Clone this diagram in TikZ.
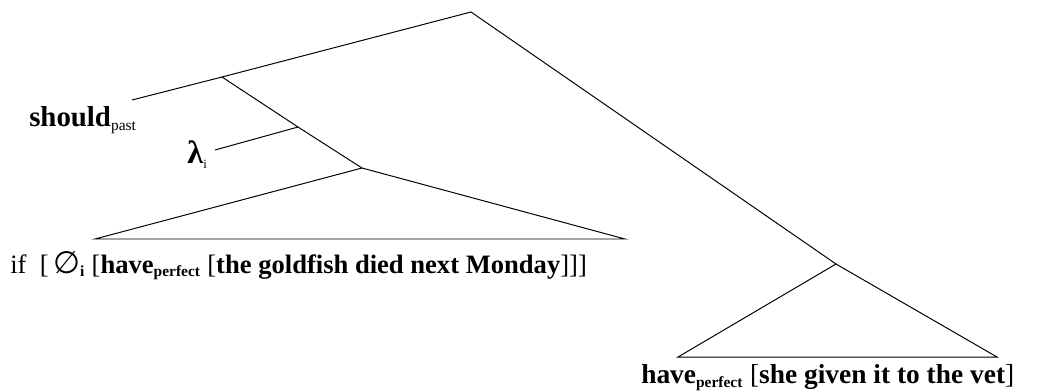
\documentclass[tikz,border=0pt]{standalone}
\usepackage{fontspec}
\setmainfont{Liberation Serif}
\newfontfamily\symfont{DejaVu Sans}
\usepackage{tikz}
\usetikzlibrary{positioning}

\begin{document}
\begin{tikzpicture}[
    x=0.025cm, y=-0.025cm,
    branch/.style={line width=0.7pt},
    word/.style={anchor=base west, inner sep=0pt, font=\fontsize{19.5}{24}\selectfont},
    lab/.style={anchor=base west, inner sep=0pt, font=\fontsize{20.5}{24}\selectfont},
]
    \useasboundingbox (0,0) rectangle (1045,390);

    % tree nodes
    \coordinate (root) at (471,12);
    \coordinate (nA) at (222,77);
    \coordinate (nB) at (298,127);
    \coordinate (nC) at (362,168);
    \coordinate (nD) at (836,264);
    \coordinate (shd) at (132,100);
    \coordinate (lam) at (215,150);
    \coordinate (ifL) at (95,239);
    \coordinate (ifR) at (625,239);
    \coordinate (hvL) at (678,357);
    \coordinate (hvR) at (997,357);

    % labels
    \node[lab] (should) at (29,126) {\textbf{should}\textsubscript{\fontsize{11}{12}\selectfont past}};
    \node[lab, font=\fontsize{23}{26}\selectfont] (lambda) at (187,163) {\textbf{λ}\textsubscript{\fontsize{9}{10}\selectfont i}};
    \node[word, font=\fontsize{18.9}{23}\selectfont] (ifcl) at (10,273) {if\ \ [\,{\symfont\fontsize{22}{24}\selectfont ∅}\textsubscript{\fontsize{11}{12}\selectfont\bfseries i} [\textbf{have}\textsubscript{\fontsize{11}{12}\selectfont\bfseries perfect} [\textbf{the goldfish died next Monday}]]]};
    \node[word] (main) at (641,383) {\textbf{have}\textsubscript{\fontsize{11}{12}\selectfont\bfseries perfect} [\textbf{she given it to the vet}]};

    % branches
    \draw[branch] (shd) -- (nA) -- (root) -- (nD);
    \draw[branch] (nA) -- (nB) -- (nC);
    \draw[branch] (lam) -- (nB);
    \draw[branch] (nC) -- (ifL) -- (ifR) -- cycle;
    \draw[branch] (nD) -- (hvL) -- (hvR) -- cycle;
\end{tikzpicture}
\end{document}
